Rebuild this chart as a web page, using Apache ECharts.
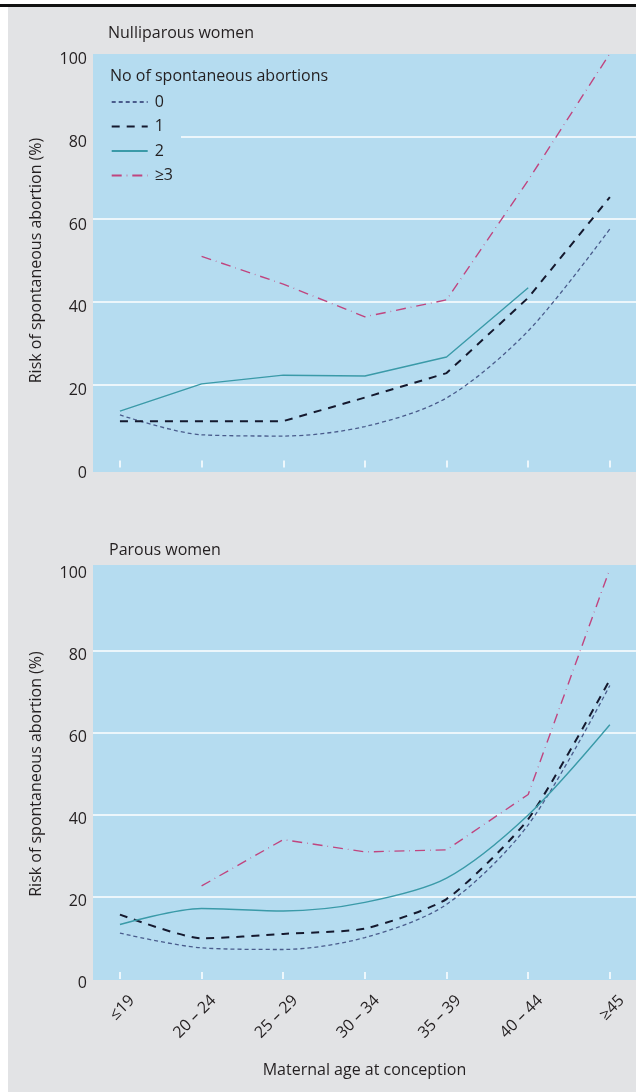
<!DOCTYPE html>
<html>
<head>
<meta charset="utf-8">
<script src="https://cdn.jsdelivr.net/npm/echarts@6/dist/echarts.min.js"></script>
<style>
html,body{margin:0;padding:0;background:#fff;}
#c{width:636px;height:1092px;}
</style>
</head>
<body>
<div id="c"></div>
<script>
// ---- data ----
var ageGroups = ['≤19', '20 – 24', '25 – 29', '30 – 34', '35 – 39', '40 – 44', '≥45'];
var seriesNames = ['0', '1', '2', '≥3'];
var yTicks = [0, 20, 40, 60, 80, 100];

// Nulliparous women
var nulli0 = [12.7, 7.9, 7.6, 9.9, 16.8, 33.0, 57.6];
var nulli1 = [11.2, 11.2, 11.2, 16.9, 22.8, 41.0, 65.3];
var nulli2 = [13.6, 20.2, 22.3, 22.1, 26.7, 43.4, null];
var nulli3 = [null, 51.0, 44.3, 36.4, 40.5, 69.4, 100];

// Parous women
var parous0 = [11.2, 7.6, 7.2, 10.1, 18.2, 37.6, 71.6];
var parous1 = [15.7, 9.9, 11.0, 12.3, 19.5, 39.0, 73.0];
var parous2 = [13.3, 17.2, 16.6, 18.7, 24.6, 40.0, 62.0];
var parous3 = [null, 22.7, 34.0, 31.0, 31.5, 45.0, 100];

// ---- styles ----
var BLUE = '#b5dcf0';
var GREY = '#e2e3e5';
var TXT = '#231f20';
var FONT = '"Open Sans"';
var FS = 16;
var styles = {
  '0': {color: '#4a5c8c', width: 1.3, type: [4, 3]},
  '1': {color: '#15192e', width: 2, type: [8, 7]},
  '2': {color: '#3a9aa8', width: 1.4, type: 'solid'},
  '≥3': {color: '#c0457f', width: 1.4, type: [10, 5, 0.6, 5]}
};
var idx = ageGroups.map(function (_, i) { return i; });

function mk(name, vals, gi, smooth) {
  var s = styles[name];
  return {
    name: name, type: 'line', xAxisIndex: gi, yAxisIndex: gi,
    data: vals.map(function (v, i) { return [i, v]; }),
    symbol: 'none', smooth: smooth, connectNulls: false,
    lineStyle: {color: s.color, width: s.width, type: s.type},
    itemStyle: {color: s.color}, z: 3
  };
}

var grids = [
  {left: 93, right: 0, top: 53.5, height: 414},
  {left: 93, right: 0, top: 569, height: 410}
];

function xAx(gi, showLabels, off) {
  return {
    type: 'value', gridIndex: gi, min: -0.33, max: 6.32, offset: off,
    axisLine: {show: false},
    splitLine: {show: false},
    axisTick: {show: true, inside: true, length: 7, customValues: idx,
      lineStyle: {color: '#ffffff', width: 1.5}},
    axisLabel: {show: showLabels, customValues: idx, rotate: 45, margin: 6,
      verticalAlign: 'top', lineHeight: 34,
      color: TXT, fontFamily: FONT, fontSize: FS,
      formatter: function (v) { return ageGroups[Math.round(v)]; }},
    name: showLabels ? 'Maternal age at conception' : '',
    nameLocation: 'middle', nameGap: 82,
    nameTextStyle: {color: TXT, fontFamily: FONT, fontSize: FS}
  };
}
function yAx(gi, lh) {
  return {
    type: 'value', gridIndex: gi, min: yTicks[0], max: yTicks[yTicks.length - 1], interval: 20,
    axisLine: {show: false}, axisTick: {show: false},
    splitLine: {show: true, showMinLine: false, showMaxLine: false,
      lineStyle: {color: '#ffffff', width: 1.5}},
    axisLabel: {color: TXT, fontFamily: FONT, fontSize: FS, margin: 6,
      verticalAlign: 'top', lineHeight: lh},
    name: 'Risk of spontaneous abortion (%)', nameLocation: 'middle', nameGap: 49,
    nameTextStyle: {color: TXT, fontFamily: FONT, fontSize: FS}
  };
}

var option = {
  animation: false,
  backgroundColor: '#ffffff',
  textStyle: {fontFamily: FONT},
  graphic: [
    {type: 'rect', shape: {x: 8, y: 7, width: 640, height: 1100}, style: {fill: GREY}, z: -20},
    {type: 'rect', shape: {x: 0, y: 4, width: 640, height: 3}, style: {fill: '#111111'}, z: -19},
    {type: 'rect', shape: {x: 93, y: 54, width: 560, height: 418}, style: {fill: BLUE}, z: -18},
    {type: 'rect', shape: {x: 93, y: 565, width: 560, height: 415}, style: {fill: BLUE}, z: -18},
    {type: 'text', left: 108, top: 25, style: {text: 'Nulliparous women', fill: TXT, font: FS + 'px ' + FONT}, z: 5},
    {type: 'text', left: 109, top: 542, style: {text: 'Parous women', fill: TXT, font: FS + 'px ' + FONT}, z: 5},
    {type: 'text', left: 110, top: 68, style: {text: 'No of spontaneous abortions', fill: TXT, font: FS + 'px ' + FONT}, z: 10}
  ],
  legend: {
    orient: 'vertical', left: 93, top: 88,
    data: seriesNames, selectedMode: false,
    backgroundColor: BLUE,
    padding: [6, 8, 6, 17.7],
    itemWidth: 36, itemHeight: 10, itemGap: 8.5,
    itemStyle: {color: 'rgba(0,0,0,0)', borderColor: 'rgba(0,0,0,0)', borderWidth: 0},
    textStyle: {color: TXT, fontFamily: FONT, fontSize: FS, padding: [0, 0, 0, 2]},
    z: 6
  },
  grid: grids,
  xAxis: [xAx(0, false, 4.5), xAx(1, true, 1)],
  yAxis: [yAx(0, 12), yAx(1, 8)],
  series: [
    mk('0', nulli0, 0, 0.3),
    mk('1', nulli1, 0, false),
    mk('2', nulli2, 0, false),
    mk('≥3', nulli3, 0, false),
    mk('0', parous0, 1, 0.3),
    mk('1', parous1, 1, 0.2),
    mk('2', parous2, 1, 0.3),
    mk('≥3', parous3, 1, false)
  ]
};
var chart = echarts.init(document.getElementById('c'), null, {renderer: 'canvas'});
chart.setOption(option);
</script>
</body>
</html>
